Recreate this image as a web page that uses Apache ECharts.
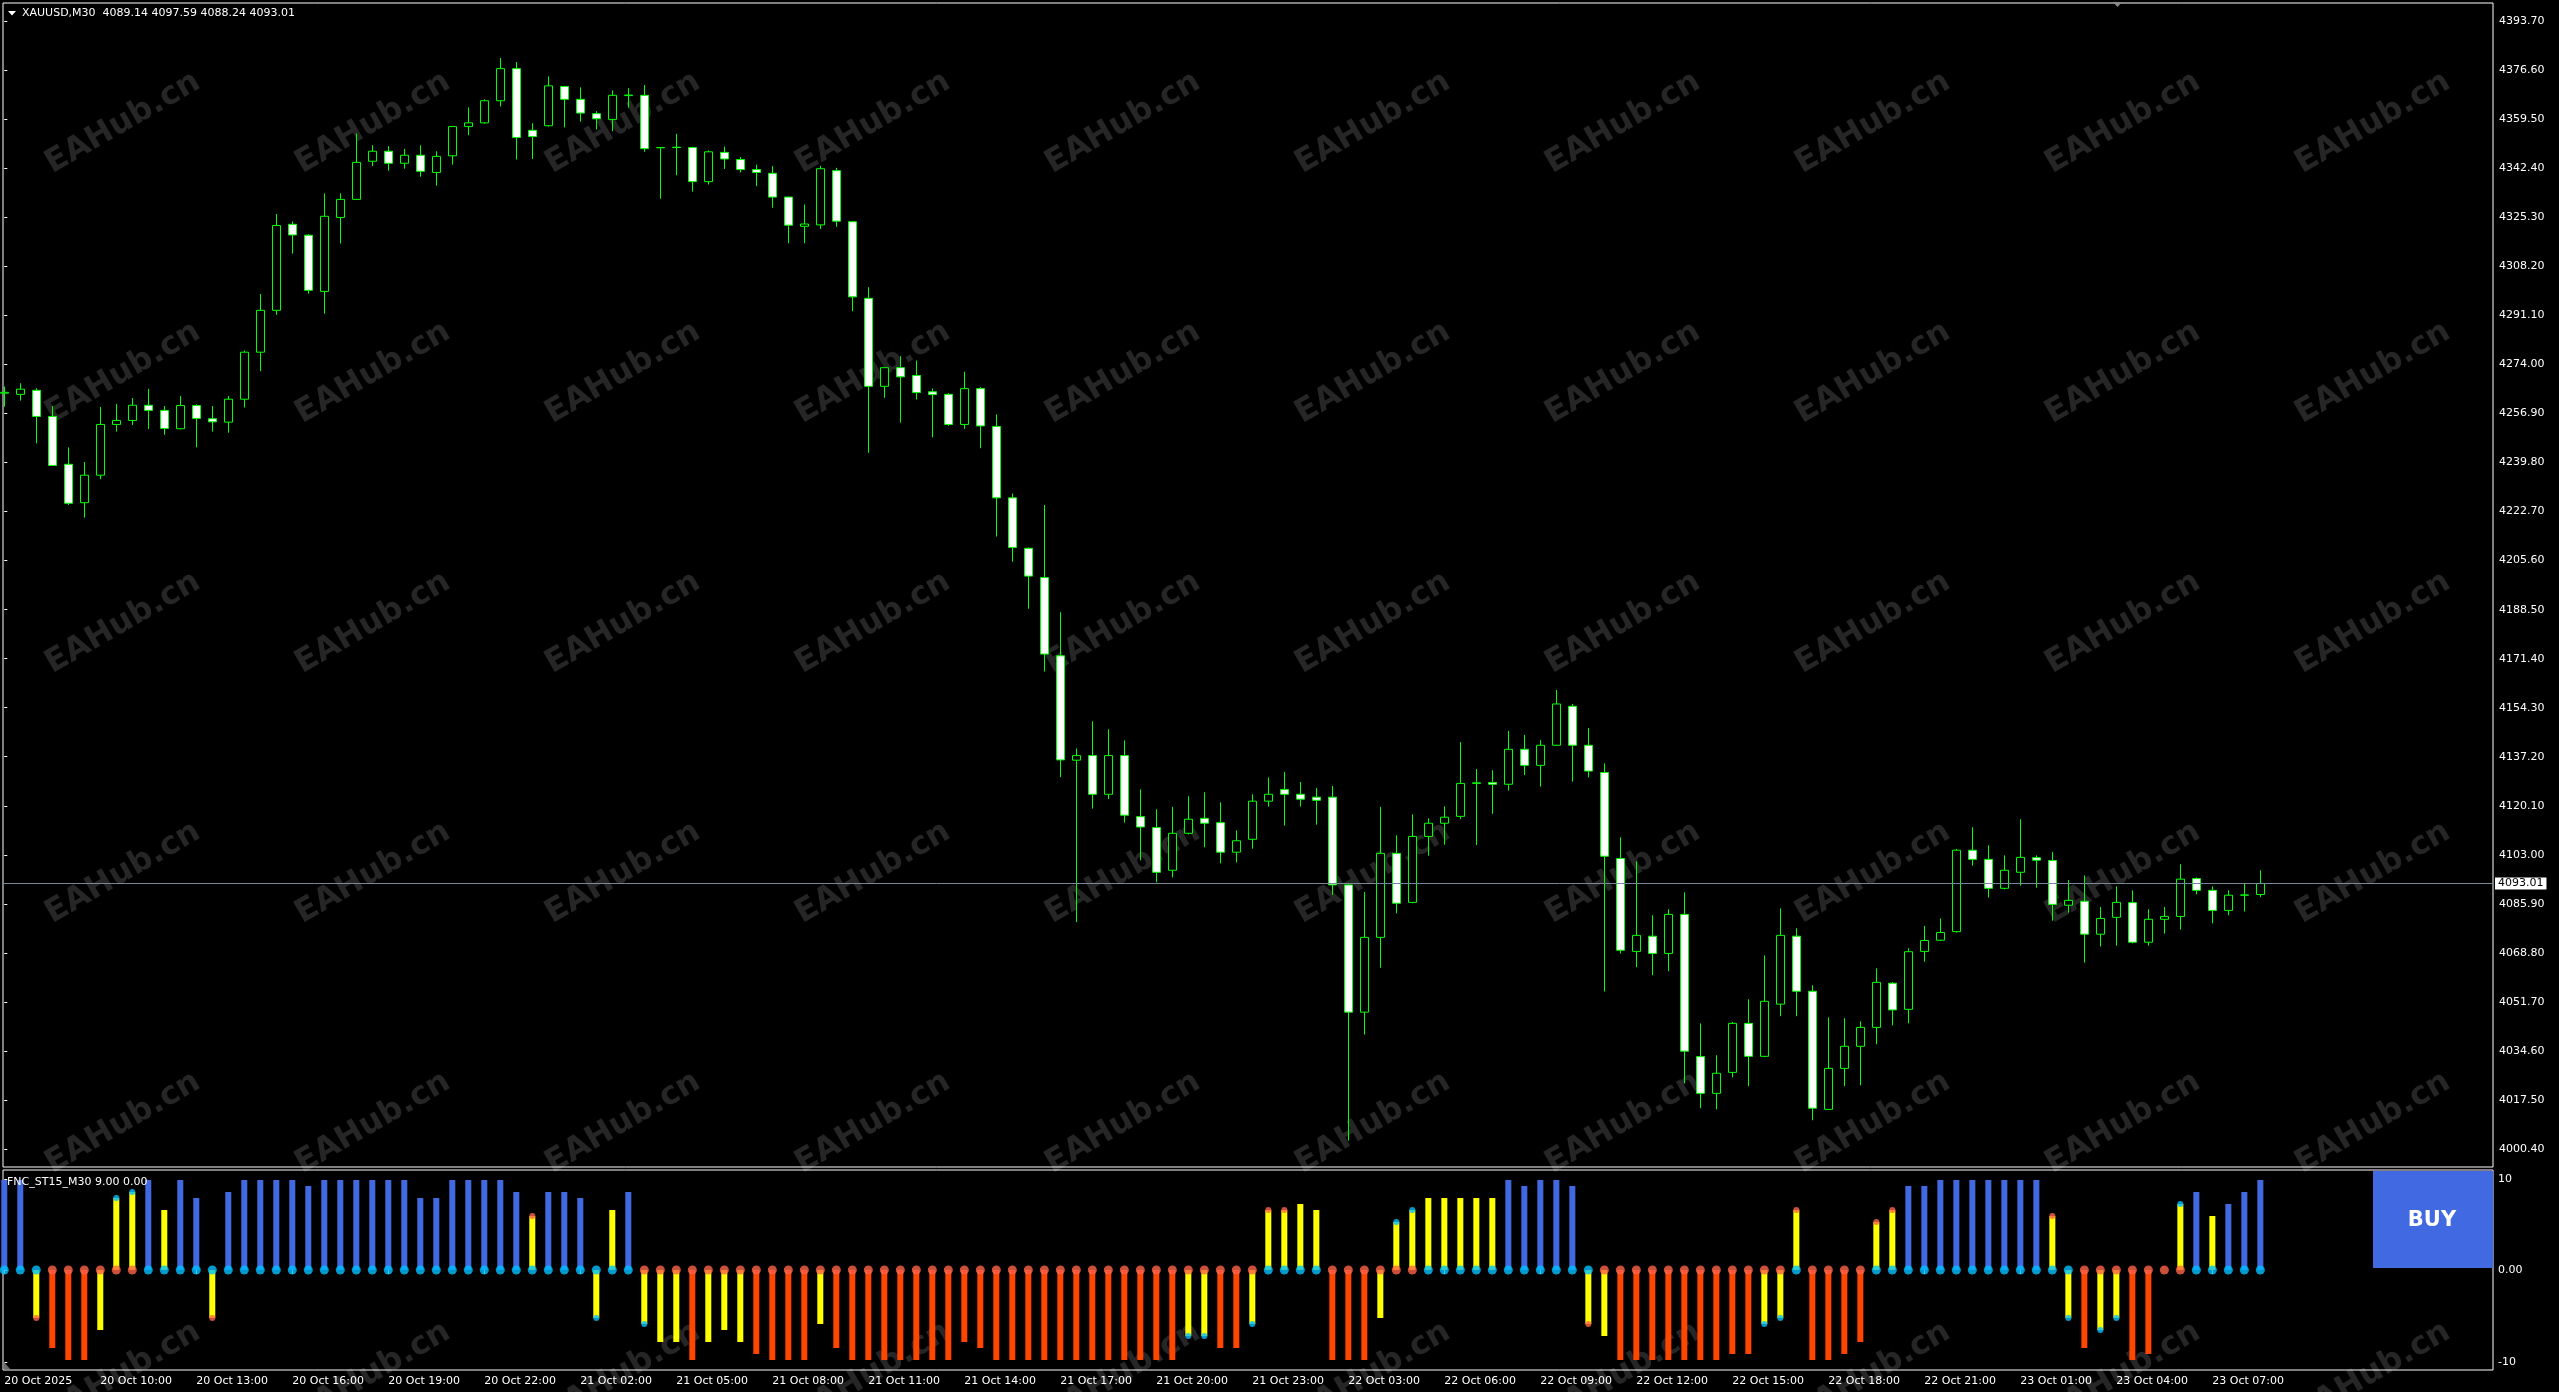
<!DOCTYPE html>
<html><head><meta charset="utf-8">
<script src="https://cdn.jsdelivr.net/npm/echarts@6/dist/echarts.min.js"></script>
<style>html,body{margin:0;padding:0;background:#000;overflow:hidden}#chart{width:2559px;height:1392px;}</style>
</head><body><div id="chart"></div>
<script>
// ---------- DATA ----------
const symbolTitle = 'XAUUSD,M30  4089.14 4097.59 4088.24 4093.01';
const indicatorTitle = 'FNC_ST15_M30 9.00 0.00';
const currentPrice = 4093.01;

const opens = [
4264.0,4263.6,4265.0,4255.9,4239.2,4225.8,4235.4,4253.1,4254.5,4259.8,
4258.0,4251.6,4259.7,4255.1,4253.9,4261.9,4278.3,4292.9,4322.9,4319.1,
4299.5,4325.3,4331.6,4344.9,4348.4,4344.2,4347.0,4341.0,4346.8,4357.0,
4358.3,4366.0,4377.2,4355.7,4357.3,4371.0,4366.5,4361.5,4359.5,4367.8,
4367.9,4349.6,4349.7,4349.7,4337.8,4348.0,4345.5,4342.0,4340.7,4332.4,
4322.2,4322.7,4341.6,4323.8,4297.1,4266.4,4272.9,4270.2,4264.5,4263.6,
4253.1,4265.6,4252.4,4227.5,4209.9,4199.7,4172.4,4136.0,4137.6,4124.1,
4137.6,4116.3,4112.5,4097.6,4110.5,4115.7,4114.2,4103.9,4108.4,4121.7,
4125.8,4124.1,4123.1,4123.1,4092.5,4048.1,4074.2,4103.5,4086.4,4109.4,
4114.0,4116.4,4127.9,4128.2,4127.6,4139.8,4134.2,4141.2,4154.8,4141.2,
4131.7,4101.7,4069.3,4074.6,4068.6,4082.2,4032.6,4019.8,4027.1,4044.2,
4032.7,4050.9,4074.6,4055.4,4014.2,4028.5,4036.2,4042.8,4058.2,4049.1,
4069.3,4073.2,4076.2,4104.6,4101.4,4091.3,4096.9,4102.0,4101.0,4085.4,
4086.8,4075.3,4081.2,4086.3,4072.5,4080.5,4081.5,4094.7,4090.6,4083.6,
4088.9,4089.14];
const highs = [
4266.3,4267.5,4265.7,4259.5,4245.1,4240.0,4259.2,4260.2,4262.3,4265.5,
4259.5,4263.0,4260.1,4259.5,4263.0,4278.9,4298.6,4326.5,4323.9,4319.5,
4333.7,4333.7,4354.6,4350.5,4350.2,4349.2,4350.5,4348.4,4357.2,4363.7,
4366.5,4380.9,4379.5,4358.2,4374.5,4371.2,4370.7,4362.4,4369.6,4370.4,
4371.5,4349.9,4354.5,4350.0,4348.7,4350.0,4346.4,4343.7,4343.2,4332.6,
4329.8,4343.3,4342.6,4324.0,4301.0,4273.1,4276.9,4275.4,4265.6,4264.0,
4271.5,4266.1,4256.6,4229.0,4210.2,4225.0,4187.6,4140.1,4149.6,4146.8,
4142.9,4125.8,4118.9,4119.7,4123.4,4124.8,4121.3,4111.5,4124.1,4130.0,
4131.9,4128.4,4126.3,4127.0,4093.2,4090.0,4119.7,4109.8,4117.1,4115.7,
4119.9,4142.3,4132.9,4132.5,4146.2,4144.8,4143.0,4160.5,4155.6,4147.2,
4134.9,4109.1,4100.7,4081.9,4084.0,4089.9,4044.2,4033.1,4044.7,4052.6,
4067.9,4084.3,4077.4,4057.5,4046.3,4046.0,4044.9,4063.4,4058.6,4070.4,
4078.2,4080.8,4105.0,4112.6,4106.3,4102.8,4115.4,4102.8,4104.0,4094.2,
4095.8,4084.8,4092.0,4090.6,4084.0,4084.8,4099.7,4095.1,4092.0,4090.6,
4093.1,4097.59];
const lows = [
4259.3,4261.4,4246.5,4238.6,4225.0,4220.6,4234.0,4250.6,4252.9,4251.5,
4249.5,4251.4,4245.1,4250.6,4250.2,4259.0,4271.7,4291.3,4312.7,4298.7,
4291.7,4316.2,4331.4,4343.2,4341.6,4342.3,4339.5,4336.4,4343.7,4354.0,
4358.0,4364.0,4345.5,4345.7,4357.0,4356.7,4358.7,4356.0,4355.4,4363.6,
4348.2,4331.8,4340.0,4334.3,4336.8,4342.2,4341.0,4336.2,4328.7,4316.3,
4316.3,4321.3,4322.0,4292.6,4243.2,4262.4,4253.7,4261.8,4248.6,4252.6,
4251.6,4244.8,4214.0,4205.2,4188.8,4166.9,4130.1,4079.5,4119.1,4122.4,
4114.2,4101.1,4093.4,4095.1,4110.1,4105.6,4100.0,4100.3,4105.1,4119.8,
4113.2,4119.8,4113.5,4089.0,4003.3,4040.3,4063.6,4082.6,4086.1,4102.7,
4106.5,4115.4,4106.4,4117.3,4125.4,4130.8,4126.8,4141.0,4128.5,4130.0,
4055.3,4068.6,4063.8,4061.0,4062.4,4023.3,4014.6,4014.2,4025.4,4022.3,
4032.4,4046.7,4046.7,4010.4,4014.0,4022.3,4022.6,4036.9,4043.5,4044.2,
4065.7,4073.0,4075.9,4099.2,4088.1,4090.9,4092.2,4091.5,4080.0,4082.8,
4065.4,4071.0,4071.3,4072.1,4071.3,4075.5,4076.9,4089.2,4079.1,4081.9,
4083.2,4088.24];
const closes = [
4264.3,4265.4,4255.9,4238.8,4225.6,4235.4,4253.1,4254.5,4259.8,4258.0,
4251.7,4259.7,4255.2,4254.0,4261.9,4278.3,4292.9,4322.5,4319.2,4299.9,
4325.7,4331.6,4344.5,4348.4,4344.2,4347.0,4341.4,4346.6,4357.0,4358.3,
4366.0,4377.2,4353.2,4353.5,4371.2,4366.5,4361.7,4359.7,4367.9,4368.0,
4349.3,4349.7,4349.8,4337.8,4348.2,4345.7,4342.0,4341.0,4332.4,4322.6,
4323.0,4342.3,4324.0,4297.6,4266.4,4272.9,4269.7,4264.2,4263.5,4253.1,
4265.6,4252.6,4227.5,4210.2,4200.2,4173.0,4136.1,4137.6,4124.1,4137.6,
4116.8,4112.7,4096.9,4110.5,4115.4,4114.0,4103.9,4107.9,4121.7,4124.1,
4124.1,4122.4,4122.0,4092.5,4048.1,4074.2,4103.5,4086.1,4109.4,4114.0,
4116.1,4127.9,4128.1,4127.6,4139.8,4134.2,4141.2,4155.6,4141.2,4132.2,
4102.5,4069.7,4074.9,4068.6,4082.2,4034.5,4019.8,4026.8,4044.2,4032.7,
4051.9,4074.9,4055.4,4014.6,4028.5,4036.2,4042.8,4058.5,4048.9,4069.2,
4073.1,4075.9,4104.6,4101.4,4091.3,4097.6,4102.1,4101.1,4085.7,4087.1,
4075.3,4080.8,4086.4,4072.5,4080.5,4081.5,4094.5,4090.6,4083.6,4088.9,
4089.0,4093.01];

// indicator histogram values
const stValues = [
9,9,-4.8,-7.8,-9,-9,-6,7.2,7.8,9,
6,9,7.2,-4.8,7.8,9,9,9,9,8.4,
9,9,9,9,9,9,7.2,7.2,9,9,
9,9,7.8,5.4,7.8,7.8,7.2,-4.8,6,7.8,
-5.4,-7.2,-7.2,-9,-7.2,-6,-7.2,-8.4,-9,-9,
-9,-5.4,-7.8,-9,-9,-9,-9,-9,-9,-9,
-7.2,-7.8,-9,-9,-9,-9,-9,-9,-9,-9,
-9,-9,-9,-9,-6.6,-6.6,-7.8,-7.8,-5.4,6,
6,6.6,6,-9,-9,-9,-4.8,4.8,6,7.2,
7.2,7.2,7.2,7.2,9,8.4,9,9,8.4,-5.4,
-6.6,-9,-9,-9,-9,-9,-9,-9,-8.4,-8.4,
-5.4,-4.8,6,-9,-9,-8.4,-7.2,4.8,6,8.4,
8.4,9,9,9,9,9,9,9,5.4,-4.8,
-7.8,-6,-4.8,-9,-8.4,0,6.6,7.8,5.4,6.6,
7.8,9];
// bar colour class per bar: B = strong up, Y = weak, R = strong down
const stColorCodes = ('BBYRRRYYYB' + 'YBBYBBBBBB' + 'BBBBBBBBBB' + 'BBBYBBBYYB' + 'YYYRYYYRRR' +
  'RYRRRRRRRR' + 'RRRRRRRRRR' + 'RRRRYYRRYY' + 'YYYRRRYYYY' + 'YYYYBBBBBY' +
  'YRRRRRRRRR' + 'YYYRRRRYYB' + 'BBBBBBBBYY' + 'RYYRRRYBYB' + 'BB').split('');
// zero-line dot class per bar: B = up, R = down
const zeroDotCodes = ('BBBRRRRRRB' + 'BBBBBBBBBB' + 'BBBBBBBBBB' + 'BBBBBBBBBB' + 'RRRRRRRRRR' +
  'RRRRRRRRRR' + 'RRRRRRRRRR' + 'RRRRRRRRRB' + 'BBBRRRRRRB' + 'BBBBBBBBBB' +
  'RRRRRRRRRR' + 'RRBRRRRBBB' + 'BBBBBBBBBB' + 'RRRRRRRBBB' + 'BB').split('');
// dot on the tip of a bar: B / R / - (none)
const tipDotCodes = ('--R----BB-' + '---R------' + '----------' + '---R---B--' + 'B---------' +
  '----------' + '----------' + '----BB--BR' + 'R------BB-' + '---------R' +
  '----------' + 'BBR----RR-' + '--------RB' + '-BB---B---' + '--').split('');

const priceTicks = [4000.4,4017.5,4034.6,4051.7,4068.8,4085.9,4103.0,4120.1,4137.2,4154.3,4171.4,4188.5,
  4205.6,4222.7,4239.8,4256.9,4274.0,4291.1,4308.2,4325.3,4342.4,4359.5,4376.6,4393.7];
const timeTickBars = [0,6,12,18,24,30,36,42,48,54,60,66,72,78,84,90,96,102,108,114,120,126,132,138];
const timeTickLabels = ['20 Oct 2025','20 Oct 10:00','20 Oct 13:00','20 Oct 16:00','20 Oct 19:00','20 Oct 22:00',
  '21 Oct 02:00','21 Oct 05:00','21 Oct 08:00','21 Oct 11:00','21 Oct 14:00','21 Oct 17:00','21 Oct 20:00',
  '21 Oct 23:00','22 Oct 03:00','22 Oct 06:00','22 Oct 09:00','22 Oct 12:00','22 Oct 15:00','22 Oct 18:00',
  '22 Oct 21:00','23 Oct 01:00','23 Oct 04:00','23 Oct 07:00'];
const indTickValues = [9.1, 0, -9.2];
const indTickLabels = ['10', '0.00', '-10'];

// ---------- STYLE ----------
const FONT = 'DejaVu Sans';
const barColor = { B: '#4169E1', Y: '#FFFF00', R: '#FF4500' };
const dotColor = { B: '#00BFFF', R: '#FF6347' };
const X_MIN = -0.08, X_MAX = 155.54;

const candleData = opens.map((o, i) => [i, o, closes[i], lows[i], highs[i]]);
const histData = stValues.map((v, i) => ({ value: [i, v], itemStyle: { color: barColor[stColorCodes[i]] } }));
const zeroDots = zeroDotCodes.map((c, i) => ({ value: [i, 0], itemStyle: { color: dotColor[c] } }));
const tipDots = [];
tipDotCodes.forEach((c, i) => { if (c !== '-') tipDots.push({ value: [i, stValues[i]], itemStyle: { color: dotColor[c] } }); });

const graphics = [];
for (let r = 0; r < 6; r++) {
  for (let c = 0; c < 10; c++) {
    graphics.push({
      type: 'text', x: 123 + 250 * c, y: 123 + 250 * r, rotation: Math.PI / 6, z: -10, silent: true,
      style: { text: 'EAHub.cn', fill: '#262626', font: 'bold 32px "' + FONT + '"',
        textAlign: 'center', textVerticalAlign: 'middle', align: 'center', verticalAlign: 'middle' }
    });
  }
}
graphics.push(
  { type: 'polygon', z: 20, shape: { points: [[8, 11], [16, 11], [12, 15.5]] }, style: { fill: '#fff' } },
  { type: 'text', z: 20, x: 22, y: 13, style: { text: symbolTitle, fill: '#fff', font: '11px "' + FONT + '"',
      textVerticalAlign: 'middle', verticalAlign: 'middle' } },
  { type: 'polygon', z: 20, shape: { points: [[2113, 2], [2122, 2], [2117.5, 7]] }, style: { fill: '#8a8a8a' } },
  { type: 'polygon', z: 20, shape: { points: [[4, 1362], [4, 1369], [10, 1369]] }, style: { fill: '#6a6a6a' } },
  { type: 'text', z: 20, x: 7, y: 1182, style: { text: indicatorTitle, fill: '#fff', font: '11px "' + FONT + '"',
      textVerticalAlign: 'middle', verticalAlign: 'middle' } },
  { type: 'rect', z: 20, shape: { x: 2373, y: 1171, width: 120, height: 97 }, style: { fill: '#4169E1' } },
  { type: 'text', z: 21, x: 2432, y: 1221, style: { text: 'BUY', fill: '#fff', font: 'bold 21px "' + FONT + '"',
      textAlign: 'center', textVerticalAlign: 'middle', align: 'center', verticalAlign: 'middle' } }
);

const chart = echarts.init(document.getElementById('chart'), null, { renderer: 'canvas' });
chart.setOption({
  backgroundColor: '#000',
  animation: false,
  textStyle: { fontFamily: FONT },
  grid: [
    { left: 3, top: 3, width: 2490, height: 1164, show: true, borderColor: '#ffffff', borderWidth: 1, backgroundColor: 'transparent' },
    { left: 3, top: 1170, width: 2490, height: 200, show: true, borderColor: '#ffffff', borderWidth: 1, backgroundColor: 'transparent' }
  ],
  xAxis: [
    { gridIndex: 0, type: 'value', min: X_MIN, max: X_MAX, show: false, splitLine: { show: false } },
    { gridIndex: 1, type: 'value', min: X_MIN, max: X_MAX, splitLine: { show: false },
      axisLine: { show: false },
      axisTick: { show: true, customValues: timeTickBars, length: 4, lineStyle: { color: '#fff', width: 1 } },
      axisLabel: { show: true, customValues: timeTickBars, color: '#fff', fontSize: 11, fontFamily: FONT,
        align: 'left', margin: 6,
        formatter: v => timeTickLabels[timeTickBars.indexOf(Math.round(v))] || '' } }
  ],
  yAxis: [
    { gridIndex: 0, type: 'value', position: 'right', min: 3994.1, max: 4400.1, splitLine: { show: false },
      axisLine: { show: false },
      axisTick: { show: true, customValues: priceTicks, length: 3, lineStyle: { color: '#fff' } },
      axisLabel: { show: true, customValues: priceTicks, color: '#fff', fontSize: 11, fontFamily: FONT, margin: 6,
        padding: [4, 0, 0, 0],
        formatter: v => Number(v).toFixed(2) } },
    { gridIndex: 1, type: 'value', position: 'right', min: -10, max: 10, splitLine: { show: false },
      axisLine: { show: false },
      axisTick: { show: true, customValues: indTickValues, length: 3, lineStyle: { color: '#fff' } },
      axisLabel: { show: true, customValues: indTickValues, color: '#fff', fontSize: 11, fontFamily: FONT, margin: 5,
        formatter: v => indTickLabels[indTickValues.indexOf(v)] || '' } }
  ],
  graphic: { elements: graphics },
  series: [
    { type: 'candlestick', xAxisIndex: 0, yAxisIndex: 0, data: candleData,
      encode: { x: 0, y: [1, 2, 3, 4] }, barWidth: 9, clip: true, silent: true,
      itemStyle: { color: '#000000', color0: '#ffffff', borderColor: '#00FF00', borderColor0: '#00FF00',
        borderColorDoji: '#00FF00', borderWidth: 1 },
      markLine: { symbol: 'none', silent: true, animation: false,
        lineStyle: { color: '#778899', width: 1, type: 'solid' },
        label: { show: true, position: 'end', distance: 2, formatter: currentPrice.toFixed(2), color: '#000',
          backgroundColor: '#fff', padding: [1, 3, 0, 3], fontSize: 11, fontFamily: FONT },
        data: [{ yAxis: currentPrice }] } },
    { type: 'bar', xAxisIndex: 1, yAxisIndex: 1, data: histData, barWidth: 6, silent: true, z: 2 },
    { type: 'scatter', xAxisIndex: 1, yAxisIndex: 1, data: zeroDots, symbol: 'circle', symbolSize: 9, silent: true, z: 4 },
    { type: 'scatter', xAxisIndex: 1, yAxisIndex: 1, data: tipDots, symbol: 'circle', symbolSize: 6, silent: true, z: 5 }
  ]
});
</script>
</body></html>
